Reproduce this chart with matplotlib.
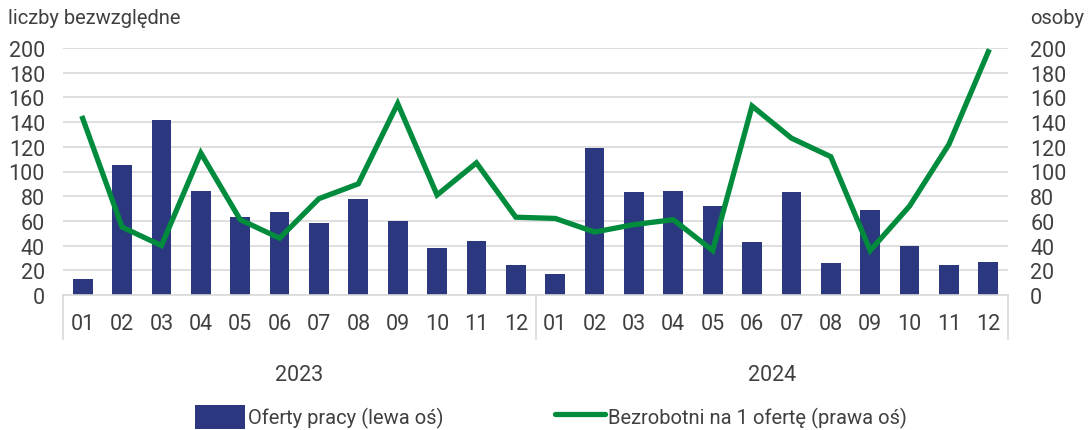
import matplotlib
matplotlib.use("Agg")
import matplotlib.pyplot as plt
import matplotlib.transforms as mtransforms
from matplotlib.lines import Line2D
from matplotlib.patches import Patch
import numpy as np

plt.rcParams['font.family'] = ['Roboto', 'DejaVu Sans']

months = ["01", "02", "03", "04", "05", "06", "07", "08", "09", "10", "11", "12"] * 2
years = ["2023", "2024"]
oferty = [13, 105, 142, 84, 63, 67, 58, 78, 60, 38, 44, 24,
          17, 119, 83, 84, 72, 43, 83, 26, 69, 40, 24, 27]
bezrobotni = [143, 55, 40, 115, 61, 46, 78, 90, 155, 81, 107, 63,
              62, 51, 57, 61, 36, 153, 127, 112, 36, 72, 122, 197]

bar_color = "#2B3880"
line_color = "#008C3C"
grid_color = "#D9D9D9"
text_color = "#404040"
fs = 14.5
fs_tick = 15.5

fig = plt.figure(figsize=(10.89, 4.31), dpi=100)
ax = fig.add_axes([63/1089, (431-296)/431, (1008-63)/1089, (296-49)/431])
ax2 = ax.twinx()

x = np.arange(len(oferty))
ax.bar(x, oferty, width=0.5, color=bar_color, zorder=2)
ax2.plot(x, bezrobotni, color=line_color, lw=3.8, zorder=3, solid_joinstyle='miter')

for a in (ax, ax2):
    a.set_ylim(0, 200)
    a.set_yticks(np.arange(0, 201, 20))
    a.set_xlim(-0.5, len(oferty) - 0.5)
    for s in a.spines.values():
        s.set_visible(False)
ax.spines['bottom'].set_visible(True)
ax.spines['bottom'].set_color(grid_color)
ax.spines['bottom'].set_linewidth(1.2)
ax.set_axisbelow(True)
ax.yaxis.grid(True, color=grid_color, lw=1.2)
ax.set_xticks([])
ax.tick_params(axis='y', length=0, labelsize=fs_tick, labelcolor=text_color, pad=13)
ax2.tick_params(axis='y', length=0, labelsize=fs_tick, labelcolor=text_color, pad=16)
for lbl in ax2.get_yticklabels():
    lbl.set_horizontalalignment('left')
ax.set_zorder(1)
ax2.set_zorder(2)
ax.patch.set_visible(False)

trans = mtransforms.blended_transform_factory(ax.transData, ax.transAxes)
for i, m in enumerate(months):
    ax.text(i, -0.117, m, transform=trans, ha='center', va='center', fontsize=fs_tick, color=text_color)
for k, yr in enumerate(years):
    ax.text(k * 12 + 5.5, -0.32, yr, transform=trans, ha='center', va='center', fontsize=fs_tick, color=text_color)
for b in [-0.5, 11.5, 23.5]:
    ax.add_line(Line2D([b, b], [0, -0.18], transform=trans, color=grid_color, lw=1.2, clip_on=False))

fig.text(8/1089, 1 - 18/431, "liczby bezwzględne", ha='left', va='center', fontsize=fs, color=text_color)
fig.text(1030/1089, 1 - 18/431, "osoby", ha='left', va='center', fontsize=fs, color=text_color)

handles = [Patch(facecolor=bar_color, edgecolor='none'),
           Line2D([], [], color=line_color, lw=3.8, solid_capstyle='round')]
labels = ["Oferty pracy (lewa oś)", "Bezrobotni na 1 ofertę (prawa oś)"]
fig.legend(handles, labels, loc='center', bbox_to_anchor=(551/1089, 1 - 418/431), ncol=2,
           frameon=False, fontsize=fs, handlelength=2.5, handleheight=1.5, handletextpad=0.15,
           columnspacing=5.5, labelcolor=text_color)

fig.savefig("out.png", dpi=100)
